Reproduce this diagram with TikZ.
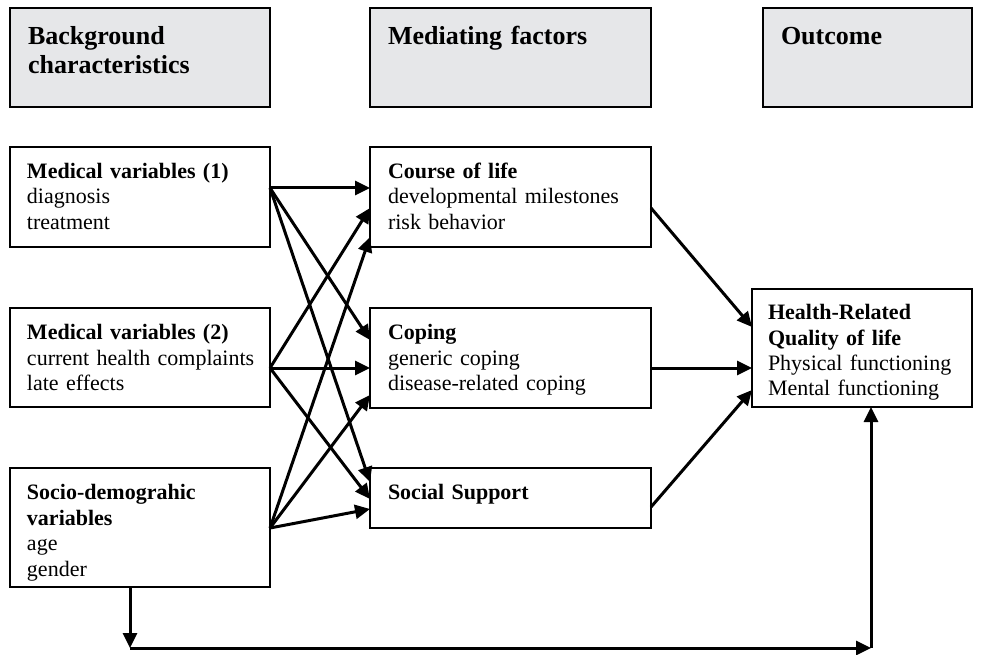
\documentclass[tikz,border=0pt]{standalone}
\usepackage{fontspec}
\setmainfont{Liberation Serif}
\usetikzlibrary{arrows.meta}
\definecolor{headgray}{RGB}{230,231,233}
\begin{document}
\begin{tikzpicture}[x=1pt,y=-1pt,
  box/.style={draw, line width=2pt, outer sep=0pt, anchor=north west, align=left,
    inner xsep=17pt, inner ysep=16.5pt, text height=15pt,
    font=\fontsize{22}{25.5}\selectfont},
  headbox/.style={box, fill=headgray, inner xsep=18pt, inner ysep=19pt,
    text height=18pt, text depth=43pt, font=\fontsize{26}{29}\selectfont\bfseries},
  link/.style={line width=3pt, -{Triangle[length=15pt,width=14pt]}}]
\useasboundingbox (0,0) rectangle (988,655);
% column headers
\node[headbox, text width=224pt] (hback) at (10,8) {Background\\characteristics};
\node[headbox, text width=245pt] (hmed) at (370,8) {Mediating factors};
\node[headbox, text width=173pt] (hout) at (763,8) {Outcome};
% background characteristics
\node[box, text width=226pt, text depth=52pt] (med1) at (10,147)
  {\textbf{Medical variables (1)}\\diagnosis\\treatment};
\node[box, text width=226pt, text depth=51pt] (med2) at (10,308)
  {\textbf{Medical variables (2)}\\\mbox{current health complaints}\\late effects};
\node[box, text width=226pt, text depth=71pt] (socio) at (10,468)
  {\textbf{Socio-demograhic}\\\textbf{variables}\\age\\gender};
% mediating factors
\node[box, inner xsep=18pt, text width=245pt, text depth=52pt] (course) at (370,147)
  {\textbf{Course of life}\\developmental milestones\\risk behavior};
\node[box, inner xsep=18pt, text width=245pt, text depth=52pt] (coping) at (370,308)
  {\textbf{Coping}\\generic coping\\disease-related coping};
\node[box, inner xsep=18pt, text width=245pt, text depth=12pt] (social) at (370,468)
  {\textbf{Social Support}};
% outcome
\node[box, inner xsep=16pt, inner ysep=15.5pt, text width=188pt, text depth=72pt] (hrql) at (752,289)
  {\textbf{Health-Related}\\\textbf{Quality of life}\\Physical functioning\\Mental functioning};
% ports
\coordinate (m1out) at ([yshift=-41pt]med1.north east);
\coordinate (m2out) at ([yshift=-60pt]med2.north east);
\coordinate (soout) at ([yshift=-60pt]socio.north east);
\coordinate (coin1) at ([yshift=-41pt]course.north west);
\coordinate (coin2) at ([yshift=-61pt]course.north west);
\coordinate (coin3) at ([yshift=-90pt]course.north west);
\coordinate (cpin1) at ([yshift=-32pt]coping.north west);
\coordinate (cpin2) at ([yshift=-60pt]coping.north west);
\coordinate (cpin3) at ([yshift=-87pt]coping.north west);
\coordinate (ssin1) at ([yshift=-14pt]social.north west);
\coordinate (ssin2) at ([yshift=-31pt]social.north west);
\coordinate (ssin3) at ([yshift=-41pt]social.north west);
\coordinate (coout) at ([yshift=-61pt]course.north east);
\coordinate (cpout) at ([yshift=-60pt]coping.north east);
\coordinate (ssout) at ([yshift=-39pt]social.north east);
\coordinate (hqin1) at ([yshift=-38pt]hrql.north west);
\coordinate (hqin2) at ([yshift=-79pt]hrql.north west);
\coordinate (hqin3) at ([yshift=-101pt]hrql.north west);
% background -> mediating
\draw[link] (m1out) -- (coin1);
\draw[link] (m1out) -- (cpin1);
\draw[link] (m1out) -- (ssin1);
\draw[link] (m2out) -- (coin2);
\draw[link] (m2out) -- (cpin2);
\draw[link] (m2out) -- (ssin2);
\draw[link] (soout) -- (coin3);
\draw[link] (soout) -- (cpin3);
\draw[link] (soout) -- (ssin3);
% mediating -> outcome
\draw[link] (coout) -- (hqin1);
\draw[link] (cpout) -- (hqin2);
\draw[link] (ssout) -- (hqin3);
% direct path
\coordinate (fb1) at ([xshift=120pt]socio.south west);
\coordinate (fb2) at (130,648);
\coordinate (fb3) at (871,648);
\coordinate (fb4) at ([xshift=119pt]hrql.south west);
\draw[link] (fb1) -- (fb2);
\draw[link] (fb2) -- (fb3);
\draw[link] (fb3) -- (fb4);
\end{tikzpicture}
\end{document}
